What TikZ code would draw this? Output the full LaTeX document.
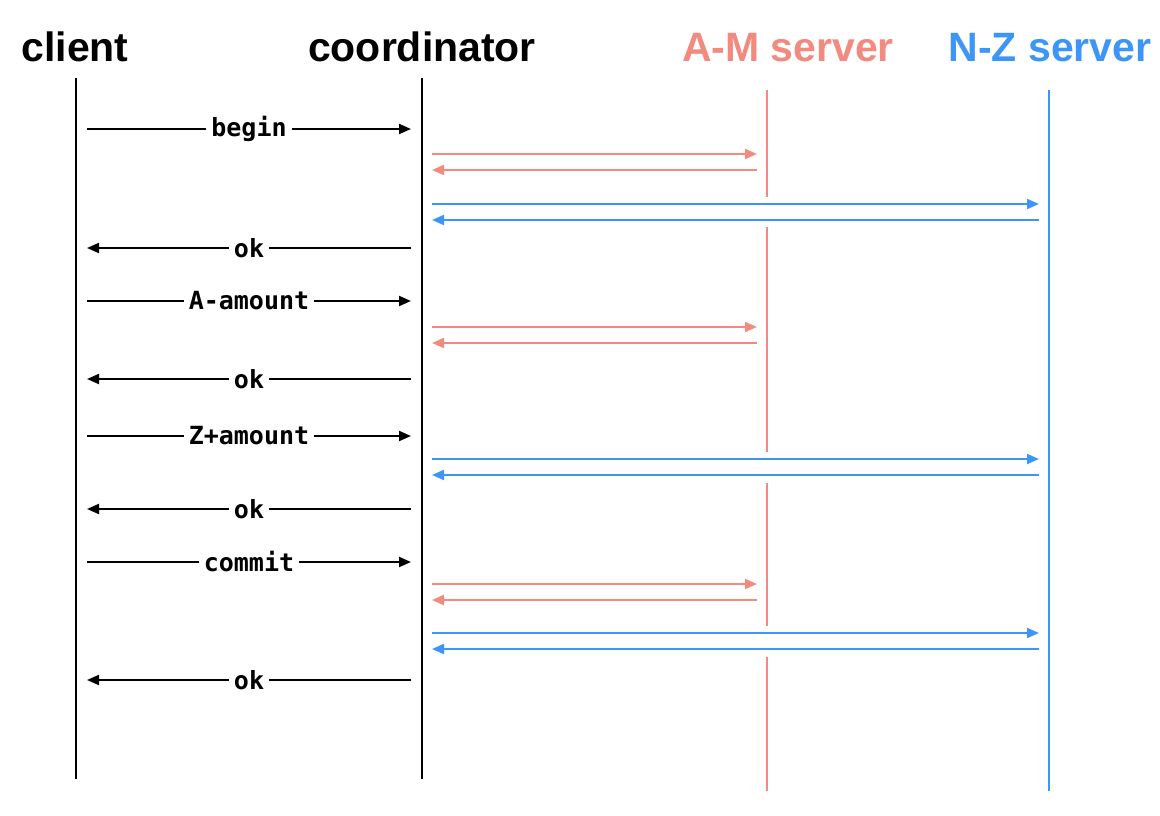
\documentclass[tikz,border=0pt]{standalone}
\usepackage{fontspec}
\setmainfont{Liberation Sans}
\setmonofont{DejaVu Sans Mono}
\usetikzlibrary{arrows.meta}
\definecolor{amred}{HTML}{F28A80}
\definecolor{nzblue}{HTML}{3D96F7}
\tikzset{
  hdr/.style={font=\fontsize{41}{41}\selectfont\bfseries, anchor=base, inner sep=0pt},
  life/.style={line width=2pt},
  msg/.style={line width=2pt, -{Triangle[length=12pt,width=10pt]}},
  lbl/.style={font=\fontsize{25}{25}\selectfont\ttfamily\bfseries, fill=white, inner xsep=5pt, inner ysep=2pt, midway},
}
\begin{document}
\begin{tikzpicture}[x=1pt,y=-1pt]
\useasboundingbox (0,0) rectangle (1160,816);
% headers
\node[hdr] (client) at (75,62) {client};
\node[hdr] (coord) at (422,62) {coordinator};
\node[hdr, text=amred] (am) at (788,62) {A-M server};
\node[hdr, text=nzblue] (nz) at (1050,62) {N-Z server};
% lifeline ends
\coordinate (cT) at (76,78);   \coordinate (cB) at (76,779);
\coordinate (kT) at (422,78);  \coordinate (kB) at (422,779);
\coordinate (aT) at (767,90);  \coordinate (aB) at (767,791);
\coordinate (zT) at (1049,90); \coordinate (zB) at (1049,791);
\draw[life] (cT) -- (cB);
\draw[life] (kT) -- (kB);
\draw[life, nzblue] (zT) -- (zB);
\draw[life, amred] (aT) -- (767,197);
\draw[life, amred] (767,227) -- (767,452);
\draw[life, amred] (767,483) -- (767,626);
\draw[life, amred] (767,657) -- (aB);
% client <-> coordinator messages
\foreach \n/\y in {1/129,2/248,3/301,4/379,5/436,6/509,7/562,8/680}{
  \coordinate (cl\n) at (87,\y);
  \coordinate (co\n) at (411,\y);
}
\draw[msg] (cl1) -- node[lbl] {begin} (co1);
\draw[msg] (co2) -- node[lbl] {ok} (cl2);
\draw[msg] (cl3) -- node[lbl] {A-amount} (co3);
\draw[msg] (co4) -- node[lbl] {ok} (cl4);
\draw[msg] (cl5) -- node[lbl] {Z+amount} (co5);
\draw[msg] (co6) -- node[lbl] {ok} (cl6);
\draw[msg] (cl7) -- node[lbl] {commit} (co7);
\draw[msg] (co8) -- node[lbl] {ok} (cl8);
% coordinator <-> A-M server
\foreach \n/\ya/\yb in {1/154/170,2/327/343,3/584/600}{
  \coordinate (ra\n) at (432,\ya); \coordinate (rb\n) at (757,\ya);
  \coordinate (rc\n) at (757,\yb); \coordinate (rd\n) at (432,\yb);
  \draw[msg, amred] (ra\n) -- (rb\n);
  \draw[msg, amred] (rc\n) -- (rd\n);
}
% coordinator <-> N-Z server
\foreach \n/\ya/\yb in {1/204/220,2/459/475,3/633/649}{
  \coordinate (ba\n) at (432,\ya); \coordinate (bb\n) at (1039,\ya);
  \coordinate (bc\n) at (1039,\yb); \coordinate (bd\n) at (432,\yb);
  \draw[msg, nzblue] (ba\n) -- (bb\n);
  \draw[msg, nzblue] (bc\n) -- (bd\n);
}
\end{tikzpicture}
\end{document}
